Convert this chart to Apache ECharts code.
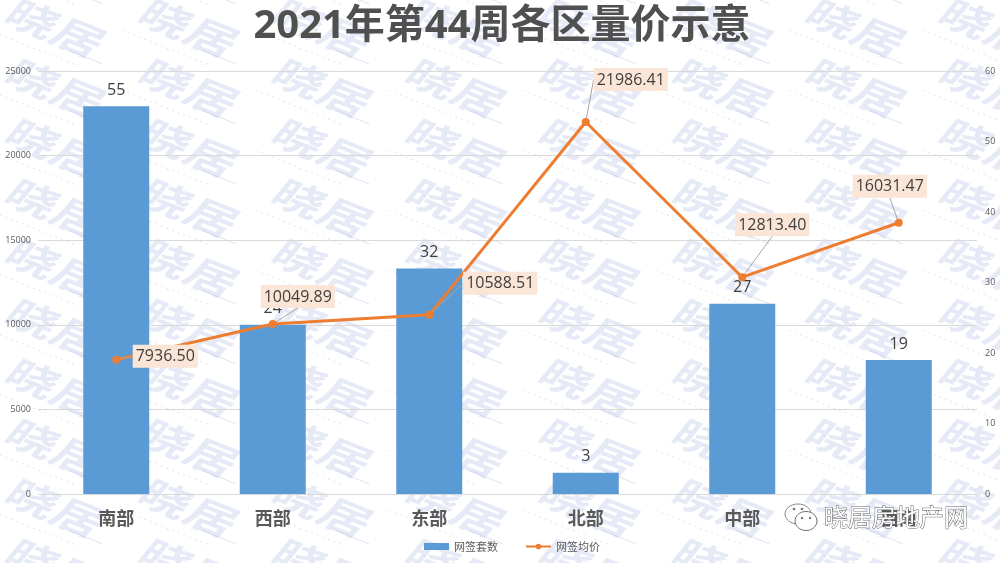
<!DOCTYPE html>
<html><head><meta charset="utf-8">
<style>html,body{margin:0;padding:0;background:#fff}#c{width:1000px;height:563px}</style>
<script src="https://cdn.jsdelivr.net/npm/echarts@6/dist/echarts.min.js"></script>
</head><body><div id="c"></div>
<script>
const categories = ['南部','西部','东部','北部','中部','西南'];
const unitCounts = [55,24,32,3,27,19];
const avgPrices = [7936.50,10049.89,10588.51,21986.41,12813.40,16031.47];
const priceTicks = {min:0,max:25000,interval:5000};
const countTicks = {min:0,max:60,interval:10};
const labelShift = [[49,12],[25,-12],[71,-16],[45,-27],[30,-37],[-9,-21]];
const FONT = '"Open Sans","Noto Sans CJK SC",sans-serif';

const marks = [];
for (let r=-1;r<11;r++) for (let c=-1;c<9;c++) {
  const x=45+c*133.4, y=29+r*60;
  marks.push({type:'group',x,y,rotation:-0.38,z:50,silent:true,children:[
    {type:'text',scaleX:1.3,style:{text:'晓居',x:-34,y:-24,font:'italic bold 38px "Noto Sans CJK SC"',fill:'rgba(165,180,222,0.28)'}},
    {type:'line',shape:{x1:-52,y1:22,x2:40,y2:22},style:{stroke:'rgba(165,180,222,0.35)',lineWidth:1,lineDash:[2,4]}},
    {type:'line',shape:{x1:30,y1:11,x2:66,y2:11},style:{stroke:'rgba(165,180,222,0.35)',lineWidth:1}}
  ]});
}
const wechat = [
  {type:'ellipse',shape:{cx:798,cy:514,rx:13,ry:10},style:{fill:'#fff',stroke:'#8a8a8a',lineWidth:1},z:60},
  {type:'ellipse',shape:{cx:806,cy:521,rx:11,ry:9.5},style:{fill:'#fff',stroke:'#6f6f6f',lineWidth:1},z:61},
  {type:'circle',shape:{cx:794,cy:509,r:1.3},style:{fill:'#777'},z:62},
  {type:'circle',shape:{cx:802,cy:509,r:1.3},style:{fill:'#777'},z:62},
  {type:'circle',shape:{cx:802,cy:518,r:1.2},style:{fill:'#777'},z:62},
  {type:'circle',shape:{cx:810,cy:518,r:1.2},style:{fill:'#777'},z:62},
  {type:'text',style:{text:'晓居房地产网',x:824,y:505,font:'24px "Noto Sans CJK SC"',fill:'#fff',stroke:'#666',lineWidth:1},z:62}
];

const chart = echarts.init(document.getElementById('c'),null,{renderer:'canvas'});
chart.setOption({
  animation:false,
  backgroundColor:'#fff',
  title:{text:'2021年第44周各区量价示意',left:497,textAlign:'center',top:2,
    textStyle:{fontFamily:FONT,fontSize:40,fontWeight:'bold',color:'#505050'}},
  grid:{left:38,right:23,top:71,bottom:69,containLabel:false},
  legend:{left:419,top:536,itemGap:27,itemWidth:25,itemHeight:7,
    textStyle:{fontSize:11,color:'#595959',fontFamily:'"Noto Sans CJK SC"'},
    data:[{name:'网签套数',icon:'rect'},{name:'网签均价'}]},
  xAxis:{type:'category',data:categories,
    axisLine:{lineStyle:{color:'#d9d9d9'}},axisTick:{show:false},
    axisLabel:{margin:15,fontSize:18,fontWeight:'bold',color:'#595959',fontFamily:'"Noto Sans CJK SC"'}},
  yAxis:[
    Object.assign({type:'value',position:'left',axisLine:{show:false},axisTick:{show:false},
      axisLabel:{fontSize:9,color:'#595959',margin:7,fontFamily:FONT,formatter:v=>String(v)},
      splitLine:{lineStyle:{color:'#d9d9d9'}}},priceTicks),
    Object.assign({type:'value',position:'right',axisLine:{show:false},axisTick:{show:false},
      axisLabel:{fontSize:9,color:'#595959',margin:8,fontFamily:FONT},
      splitLine:{show:false}},countTicks)
  ],
  series:[
    {name:'网签套数',type:'bar',yAxisIndex:1,data:unitCounts,barWidth:66,z:2,
      itemStyle:{color:'#5b9bd5'},
      label:{show:true,position:'top',distance:8,fontSize:16,color:'#404040',fontFamily:FONT}},
    {name:'网签均价',type:'line',yAxisIndex:0,data:avgPrices,z:3,
      symbol:'circle',symbolSize:8,
      lineStyle:{color:'#ed7d31',width:3},itemStyle:{color:'#ed7d31'},
      label:{show:true,position:'top',distance:0,fontSize:16,color:'#404040',fontFamily:FONT,
        backgroundColor:'#fbe5d6',padding:[4,3,3,3],
        formatter:p=>p.value.toFixed(2)},
      labelLine:{show:true,lineStyle:{color:'#a6a6a6',width:1}},
      labelLayout:p=>{const s=labelShift[p.dataIndex];return {dx:s[0],dy:s[1]};}}
  ],
  graphic:{elements:marks.concat(wechat)}
});
</script></body></html>
